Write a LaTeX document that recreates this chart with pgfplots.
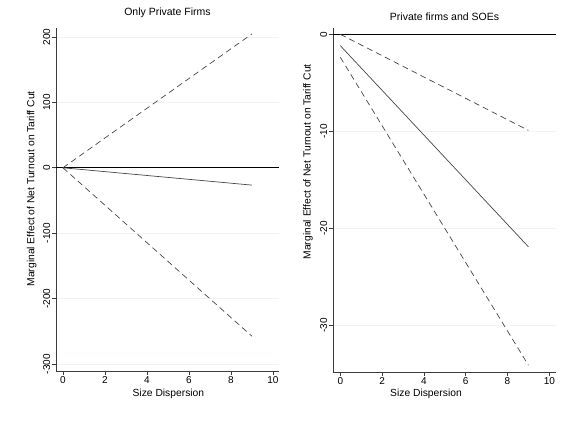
\documentclass[border=0pt]{standalone}
\usepackage{pgfplots}
\pgfplotsset{compat=1.18}
\usepackage{fontspec}
\setmainfont{Liberation Sans}
\definecolor{gridc}{RGB}{238,244,245}
\definecolor{linec}{RGB}{70,70,70}
\definecolor{axc}{RGB}{60,60,60}
\pgfplotsset{
  stata/.style={
    scale only axis,
    width=223pt,
    axis x line*=bottom,
    axis y line*=left,
    axis line style={-, line width=0.8pt, color=axc},
    tick style={line width=0.8pt, color=axc},
    tick align=outside,
    major tick length=4pt,
    xtick={0,2,4,6,8,10},
    minor tick num=0,
    ymajorgrids,
    grid style={color=gridc, line width=0.6pt},
    /pgf/number format/assume math mode=true,
    tick label style={font=\fontsize{10}{11}\selectfont},
    yticklabel style={rotate=90, anchor=south, inner sep=1.5pt},
    xticklabel style={inner sep=1.5pt},
    label style={font=\fontsize{10.3}{12}\selectfont},
    title style={font=\fontsize{10.5}{12}\selectfont, anchor=center},
    clip=false,
    every axis plot/.append style={line width=0.7pt},
  },
  dsh/.style={linec, dash pattern=on 6pt off 4pt},
}
\begin{document}
\begin{tikzpicture}
\useasboundingbox (0,0) rectangle (572pt,-420pt);
% Left panel
\begin{axis}[stata,
  at={(56pt,-371pt)}, anchor=south west,
  height=343pt,
  xmin=-0.33, xmax=10.29,
  ymin=-310.7, ymax=213.7,
  ytick={-300,-200,-100,0,100,200},
  title={Only Private Firms},
  title style={at={(axis description cs:0.5,1)}, yshift=9pt},
  xlabel={Size Dispersion},
  xlabel style={at={(axis description cs:0.504,-0.067)}, anchor=center},
  ylabel={Marginal Effect of Net Turnout on Tariff Cut},
  ylabel style={at={(axis description cs:-0.109,0.531)}, anchor=center, rotate=0},
]
\addplot[black, line width=0.8pt] coordinates {(-0.33,0) (10.29,0)};
\addplot[dsh] coordinates {(0,0) (9,204.6)};
\addplot[dsh] coordinates {(0,0) (9,-257.5)};
\addplot[linec] coordinates {(0,0) (9,-26.5)};
\end{axis}
% Right panel
\begin{axis}[stata,
  at={(333pt,-372pt)}, anchor=south west,
  height=344pt,
  xmin=-0.35, xmax=10.32,
  ymin=-34.8, ymax=0.65,
  ytick={-30,-20,-10,0},
  title={Private firms and SOEs},
  title style={at={(axis description cs:0.5,1)}, yshift=5pt},
  xlabel={Size Dispersion},
  xlabel style={at={(axis description cs:0.417,-0.064)}, anchor=center},
  ylabel={Marginal Effect of Net Turnout on Tariff Cut},
  ylabel style={at={(axis description cs:-0.112,0.611)}, anchor=center, rotate=0},
]
\addplot[black, line width=0.8pt] coordinates {(-0.35,0) (10.32,0)};
\addplot[dsh] coordinates {(0,0) (9,-9.9)};
\addplot[dsh] coordinates {(0,-2.37) (9,-34.1)};
\addplot[linec] coordinates {(0,-1.17) (9,-21.9)};
\end{axis}
\end{tikzpicture}
\end{document}
